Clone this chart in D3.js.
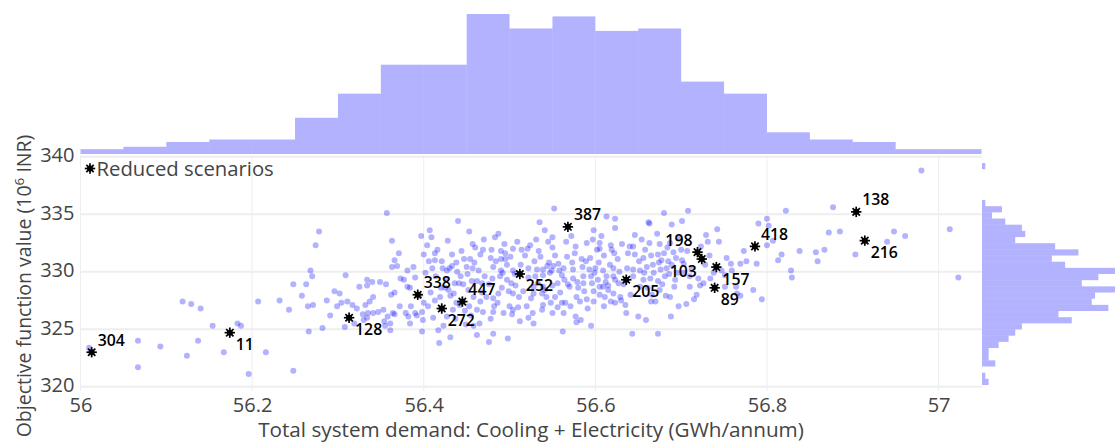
<!DOCTYPE html>
<html>
<head>
<meta charset="utf-8">
<script src="https://cdn.jsdelivr.net/npm/d3@7"></script>
<style>
	body { margin: 0; background: #fff; }
	svg { display: block; font-family: 'Open Sans', sans-serif; }
</style>
</head>
<body>
<svg id="chart" width="1115" height="443"></svg>
<script>
	'use strict';

	// All scenarios: [total demand (GWh/annum), objective (10^6 INR)]
	var scenarioPoints = [
		[56.010,323.4],[56.067,324.0],[56.067,321.7],[56.093,323.5],[56.119,327.4],[56.129,327.2],[56.140,326.8],[56.124,322.7],[56.137,324.0],[56.154,325.3],
		[56.167,323.0],[56.183,325.5],[56.187,325.3],[56.196,321.1],[56.207,327.4],[56.216,323.0],[56.232,327.5],[56.243,326.7],[56.248,328.9],[56.248,321.4],
		[56.357,335.1],[56.552,335.5],[56.440,334.4],[56.278,333.5],[56.274,332.3],[56.407,333.6],[56.453,333.5],[56.363,332.7],[56.397,333.1],[56.483,333.0],
		[56.487,333.3],[56.457,332.4],[56.460,332.1],[56.541,333.6],[56.531,332.8],[56.524,332.3],[56.521,332.0],[56.550,333.0],[56.550,332.1],[56.504,332.0],
		[56.514,331.9],[56.490,331.8],[56.495,331.6],[56.479,331.9],[56.469,331.9],[56.534,331.8],[56.577,332.2],[56.590,332.5],[56.613,334.8],[56.623,334.6],
		[56.623,333.8],[56.598,333.6],[56.607,333.1],[56.618,332.3],[56.631,332.4],[56.640,332.2],[56.602,331.9],[56.605,332.0],[56.610,331.4],[56.619,331.9],
		[56.622,331.6],[56.400,331.5],[56.413,331.6],[56.366,331.0],[56.363,330.4],[56.369,330.5],[56.413,331.0],[56.438,330.8],[56.447,331.1],[56.454,331.1],
		[56.433,330.5],[56.478,331.2],[56.490,331.1],[56.495,331.1],[56.450,330.4],[56.457,330.3],[56.464,330.1],[56.481,330.4],[56.490,330.1],[56.504,330.1],
		[56.522,330.3],[56.532,330.2],[56.539,330.2],[56.546,330.8],[56.551,330.5],[56.549,330.1],[56.557,330.7],[56.558,330.1],[56.567,331.3],[56.574,330.2],
		[56.585,330.4],[56.593,330.2],[56.600,330.3],[56.599,329.9],[56.609,330.1],[56.617,330.6],[56.621,330.3],[56.628,330.0],[56.637,330.3],[56.410,330.3],
		[56.422,330.3],[56.427,330.1],[56.430,330.3],[56.381,330.1],[56.268,330.1],[56.270,329.6],[56.263,328.9],[56.309,329.7],[56.334,329.3],[56.340,329.1],
		[56.349,329.1],[56.325,328.7],[56.334,328.8],[56.296,328.3],[56.302,328.1],[56.362,328.0],[56.366,328.2],[56.373,329.4],[56.377,329.3],[56.381,328.7],
		[56.384,328.6],[56.390,329.5],[56.420,328.6],[56.425,328.6],[56.436,329.0],[56.441,329.0],[56.451,329.8],[56.456,329.2],[56.462,329.2],[56.468,329.0],
		[56.480,329.4],[56.489,329.6],[56.497,329.3],[56.502,329.0],[56.507,328.8],[56.522,329.5],[56.530,329.6],[56.539,329.7],[56.547,329.9],[56.528,328.7],
		[56.539,328.7],[56.550,328.8],[56.561,329.7],[56.564,329.3],[56.574,329.4],[56.586,329.6],[56.595,329.6],[56.570,328.7],[56.580,328.6],[56.586,329.0],
		[56.603,329.3],[56.609,328.7],[56.615,328.8],[56.621,329.6],[56.627,329.0],[56.598,328.3],[56.605,328.0],[56.611,327.8],[56.621,328.1],[56.629,327.8],
		[56.487,328.1],[56.491,328.6],[56.499,328.3],[56.504,328.1],[56.511,327.8],[56.468,328.2],[56.473,327.8],[56.481,327.7],[56.528,328.1],[56.538,328.1],
		[56.543,327.8],[56.553,327.8],[56.561,327.3],[56.565,327.3],[56.578,327.8],[56.590,327.6],[56.598,327.4],[56.610,327.0],[56.623,327.3],[56.400,327.3],
		[56.405,327.0],[56.413,327.5],[56.385,327.0],[56.379,326.4],[56.392,326.2],[56.372,327.0],[56.353,326.7],[56.358,326.1],[56.332,327.1],[56.337,327.4],
		[56.341,327.8],[56.317,327.1],[56.322,326.8],[56.287,327.5],[56.299,327.0],[56.265,327.0],[56.271,327.1],[56.329,326.3],[56.335,326.4],[56.341,326.4],
		[56.347,326.5],[56.364,326.4],[56.308,325.2],[56.319,325.5],[56.330,325.8],[56.334,326.0],[56.354,325.7],[56.361,325.5],[56.266,324.8],[56.282,325.1],
		[56.398,324.8],[56.427,326.1],[56.434,326.7],[56.438,327.3],[56.458,327.8],[56.466,327.4],[56.453,327.0],[56.462,326.7],[56.469,326.5],[56.481,326.5],
		[56.493,326.4],[56.500,327.0],[56.504,326.7],[56.520,327.0],[56.527,326.4],[56.538,326.7],[56.550,326.4],[56.563,326.4],[56.577,326.1],[56.578,325.6],
		[56.595,325.3],[56.528,325.5],[56.431,324.3],[56.462,324.5],[56.481,324.6],[56.498,324.2],[56.449,325.4],[56.465,325.5],[56.355,325.3],[56.361,324.9],
		[56.384,325.5],[56.399,325.8],[56.418,323.8],[56.476,323.9],[56.458,325.3],[56.522,326.0],[56.562,324.8],[56.304,327.3],[56.311,327.4],[56.366,326.3],
		[56.382,326.1],[56.390,326.4],[56.398,326.5],[56.482,327.0],[56.503,326.3],[56.510,326.9],[56.539,327.1],[56.680,335.1],[56.708,335.3],[56.662,334.3],
		[56.663,334.2],[56.689,334.1],[56.701,334.4],[56.742,333.7],[56.729,333.2],[56.731,332.6],[56.605,332.5],[56.644,332.2],[56.663,332.5],[56.675,332.4],
		[56.687,332.5],[56.691,331.7],[56.658,331.9],[56.673,331.5],[56.646,331.5],[56.656,331.2],[56.700,331.9],[56.701,331.0],[56.677,331.0],[56.685,330.9],
		[56.753,331.2],[56.758,330.7],[56.769,330.7],[56.773,331.8],[56.776,330.9],[56.788,330.7],[56.790,334.2],[56.800,334.6],[56.802,334.0],[56.807,332.7],
		[56.800,332.3],[56.817,331.5],[56.813,331.0],[56.822,335.3],[56.838,331.8],[56.857,331.7],[56.859,330.9],[56.867,331.9],[56.828,330.1],[56.829,329.5],
		[56.872,333.4],[56.885,333.5],[56.877,335.6],[56.903,331.5],[56.940,332.6],[56.948,333.5],[56.961,333.1],[57.013,333.7],[57.023,329.5],[56.980,338.8],
		[56.644,330.2],[56.652,330.1],[56.660,330.4],[56.668,329.9],[56.676,330.2],[56.683,330.3],[56.613,329.6],[56.623,329.3],[56.644,329.6],[56.656,329.3],
		[56.664,329.4],[56.673,329.2],[56.681,329.6],[56.693,329.3],[56.703,329.9],[56.710,329.6],[56.720,329.4],[56.726,329.0],[56.734,329.4],[56.605,328.7],
		[56.615,328.4],[56.635,327.1],[56.652,328.7],[56.666,328.0],[56.675,328.4],[56.687,327.8],[56.697,327.0],[56.706,327.2],[56.688,326.1],[56.650,326.1],
		[56.710,328.7],[56.722,328.8],[56.718,328.0],[56.751,328.7],[56.764,328.7],[56.765,328.1],[56.769,327.9],[56.784,328.4],[56.794,327.6],[56.751,329.7],
		[56.759,330.1],[56.630,327.5],[56.643,324.6],[56.665,327.4],[56.673,324.6],
		[56.452,328.4],[56.459,330.8],[56.466,331.5],[56.471,329.6],[56.476,328.9],[56.484,330.9],[56.486,327.3],[56.492,329.9],[56.494,332.4],[56.455,326.2],
		[56.478,325.9],[56.497,330.6],[56.470,332.8],[56.553,331.4],[56.556,329.0],[56.559,328.2],[56.563,330.3],[56.566,332.6],[56.568,328.9],[56.571,327.0],
		[56.573,330.8],[56.576,331.6],[56.579,329.1],[56.582,327.4],[56.584,331.1],[56.587,328.3],[56.589,330.9],[56.591,326.8],[56.594,331.2],[56.596,329.0],
		[56.556,326.9],[56.583,325.8],[56.572,333.1],[56.597,332.8],[56.604,330.8],[56.612,329.1],[56.618,327.4],[56.626,331.1],[56.633,328.9],[56.638,331.6],
		[56.641,328.0],[56.646,333.2],[56.636,326.4],[56.651,330.9],[56.654,332.8],[56.657,329.9],[56.661,328.6],[56.665,331.4],[56.667,330.6],[56.670,327.4],
		[56.672,333.3],[56.674,330.8],[56.678,328.9],[56.680,331.6],[56.682,327.9],[56.684,332.1],[56.686,329.8],[56.689,330.6],[56.692,328.7],[56.694,331.2],
		[56.696,329.9],[56.698,332.9],[56.659,325.8],[56.703,330.7],[56.707,331.8],[56.712,330.2],[56.715,327.6],[56.723,332.2],[56.728,330.6],[56.733,331.4],
		[56.738,329.9],[56.744,332.6],[56.747,330.1],[56.402,329.9],[56.404,332.3],[56.408,328.2],[56.411,326.0],[56.414,329.6],[56.416,331.9],[56.419,327.8],
		[56.421,330.9],[56.423,325.3],[56.426,329.3],[56.428,332.7],[56.431,327.9],[56.433,331.5],[56.435,328.1],[56.437,325.9],[56.439,330.0],[56.442,327.1],
		[56.444,331.8],[56.446,328.9],[56.448,326.6],[56.406,330.9],[56.417,324.9],[56.429,328.4],[56.443,329.6],[56.409,333.0],[56.356,328.9],[56.371,331.6],
		[56.388,330.4],[56.395,327.9],[56.258,327.9],[56.291,326.2],[56.501,331.3],[56.506,329.8],[56.509,332.6],[56.513,330.6],[56.516,328.3],[56.518,331.4],
		[56.525,327.7],[56.529,330.9],[56.533,329.0],[56.536,331.3],[56.541,328.4],[56.544,330.5],[56.548,327.3],[56.512,325.7],[56.535,334.3],[56.545,332.6]
	];

	// Reduced scenarios
	var reducedIds = ['304', '11', '128', '338', '272', '447', '252', '387', '205', '198', '103', '157', '89', '418', '138', '216'];
	var reducedX = [56.013, 56.174, 56.313, 56.393, 56.421, 56.445, 56.512, 56.568, 56.636, 56.719, 56.724, 56.741, 56.739, 56.786, 56.904, 56.914];
	var reducedY = [323.0, 324.7, 326.0, 328.0, 326.8, 327.4, 329.8, 333.9, 329.3, 331.7, 331.1, 330.4, 328.6, 332.2, 335.2, 332.7];

	// Top histogram (total demand), bins of 0.05 from 56
	var demandBinStart = 56;
	var demandBinSize = 0.05;
	var demandCounts = [2, 3, 5, 6, 6, 15, 25, 37, 37, 58, 52, 57, 51, 52, 30, 25, 9, 6, 5, 2, 2];

	// Right histogram (objective), bins from the bottom up
	var objectiveBinStart = 320.15;
	var objectiveBinSize = 0.536;
	var objectiveCounts = [2, 1, 0, 4, 2, 2, 5, 8, 10, 12, 27, 23, 38, 33, 34, 44, 30, 35, 42, 25, 21, 29, 22, 10, 13, 12, 7, 3, 6, 1, 0, 0, 0, 0, 0, 1];

	var xTicks = [56, 56.2, 56.4, 56.6, 56.8, 57];
	var yTicks = [320, 325, 330, 335, 340];

	// label placement for the reduced scenario texts
	var labelSide = {
		'304': 'tr', '11': 'br', '128': 'br', '338': 'tr', '272': 'br', '447': 'tr', '252': 'br', '387': 'tr',
		'205': 'br', '198': 'tl', '103': 'bl', '157': 'br', '89': 'br', '418': 'tr', '138': 'tr', '216': 'br'
	};

	var svg = d3.select('#chart');
	var blue = '#0000ff';

	var x = d3.scaleLinear().domain([56, 57.05]).range([80.5, 981.5]);
	var y = d3.scaleLinear().domain([319.63, 340.1]).range([391, 155.5]);
	var topY = d3.scaleLinear().domain([0, 60.9]).range([154, 7]);
	var rightX = d3.scaleLinear().domain([0, 40]).range([982, 1115]);

	// Grid
	var grid = svg.append('g');
	grid.selectAll('line.gx')
		.data(xTicks)
		.enter().append('line')
			.attr('x1', function(d) { return x(d); })
			.attr('x2', function(d) { return x(d); })
			.attr('y1', 155.5)
			.attr('y2', 391)
			.attr('stroke', '#eee')
			.attr('stroke-width', 1);
	grid.selectAll('line.gy')
		.data(yTicks)
		.enter().append('line')
			.attr('x1', 80.5)
			.attr('x2', 981.5)
			.attr('y1', function(d) { return y(d); })
			.attr('y2', function(d) { return y(d); })
			.attr('stroke', '#eee')
			.attr('stroke-width', 2);

	// Axes
	var xAxis = d3.axisBottom(x)
		.tickValues(xTicks)
		.tickFormat(d3.format('~g'))
		.tickSize(0)
		.tickPadding(6.5);
	var gx = svg.append('g')
		.attr('transform', 'translate(0,391)')
		.call(xAxis);

	var yAxis = d3.axisLeft(y)
		.tickValues(yTicks)
		.tickSize(0)
		.tickPadding(6);
	var gy = svg.append('g')
		.attr('transform', 'translate(80.5,0)')
		.call(yAxis);

	[gx, gy].forEach(function(g) {
		g.select('.domain').remove();
		g.selectAll('text')
			.attr('fill', '#444')
			.attr('font-family', 'Open Sans')
			.attr('font-size', 20);
	});
	gy.selectAll('text').attr('dy', '0.25em');

	// Top histogram
	svg.append('g').selectAll('rect')
		.data(demandCounts)
		.enter().append('rect')
			.attr('x', function(d, i) { return x(demandBinStart + i * demandBinSize); })
			.attr('width', function(d, i) { return x(demandBinStart + (i + 1) * demandBinSize) - x(demandBinStart + i * demandBinSize); })
			.attr('y', function(d) { return topY(d); })
			.attr('height', function(d) { return topY(0) - topY(d); })
			.attr('fill', blue)
			.attr('fill-opacity', 0.3);

	// Right histogram
	svg.append('g').selectAll('rect')
		.data(objectiveCounts)
		.enter().append('rect')
			.attr('x', rightX(0))
			.attr('width', function(d) { return rightX(d) - rightX(0); })
			.attr('y', function(d, i) { return y(objectiveBinStart + (i + 1) * objectiveBinSize); })
			.attr('height', function(d, i) { return y(objectiveBinStart + i * objectiveBinSize) - y(objectiveBinStart + (i + 1) * objectiveBinSize); })
			.attr('fill', blue)
			.attr('fill-opacity', 0.3);

	// Scatter of all scenarios
	svg.append('g').selectAll('circle')
		.data(scenarioPoints)
		.enter().append('circle')
			.attr('cx', function(d) { return x(d[0]); })
			.attr('cy', function(d) { return y(d[1]); })
			.attr('r', 3)
			.attr('fill', blue)
			.attr('fill-opacity', 0.3);

	// Asterisk marker
	function asterisk(g, cx, cy) {
		var r = 5.2;
		for (var k = 0; k < 4; k++) {
			var a = k * Math.PI / 4;
			g.append('line')
				.attr('x1', cx - r * Math.cos(a)).attr('y1', cy - r * Math.sin(a))
				.attr('x2', cx + r * Math.cos(a)).attr('y2', cy + r * Math.sin(a))
				.attr('stroke', '#000')
				.attr('stroke-width', 1.7);
		}
		g.append('circle').attr('cx', cx).attr('cy', cy).attr('r', 3).attr('fill', '#000');
	}

	var reduced = svg.append('g');
	reducedIds.forEach(function(id, i) {
		var cx = x(reducedX[i]), cy = y(reducedY[i]);
		asterisk(reduced, cx, cy);
		var side = labelSide[id];
		var left = side.charAt(1) === 'l';
		var top = side.charAt(0) === 't';
		reduced.append('text')
			.attr('x', left ? cx - 5 : cx + 6)
			.attr('y', top ? cy - 6.5 : cy + 17.5)
			.attr('text-anchor', left ? 'end' : 'start')
			.attr('font-size', 15.8)
			.attr('font-weight', 600)
			.attr('fill', '#000')
			.text(id);
	});

	// Legend
	var legend = svg.append('g');
	asterisk(legend, 90, 168.5);
	legend.append('text')
		.attr('x', 96.5)
		.attr('y', 175.5)
		.attr('font-size', 20.3)
		.attr('fill', '#444')
		.text('Reduced scenarios');

	// Axis titles
	svg.append('text')
		.attr('x', 531)
		.attr('y', 437)
		.attr('text-anchor', 'middle')
		.attr('font-size', 20.7)
		.attr('fill', '#444')
		.text('Total system demand: Cooling + Electricity (GWh/annum)');

	var yTitle = svg.append('text')
		.attr('transform', 'translate(31,286) rotate(-90)')
		.attr('text-anchor', 'middle')
		.attr('font-size', 19.5)
		.attr('fill', '#444');
	yTitle.append('tspan').text('Objective function value (10');
	yTitle.append('tspan').attr('font-size', 13.5).attr('dy', -7.5).text('6');
	yTitle.append('tspan').attr('dy', 7.5).text(' INR)');
</script>
</body>
</html>
